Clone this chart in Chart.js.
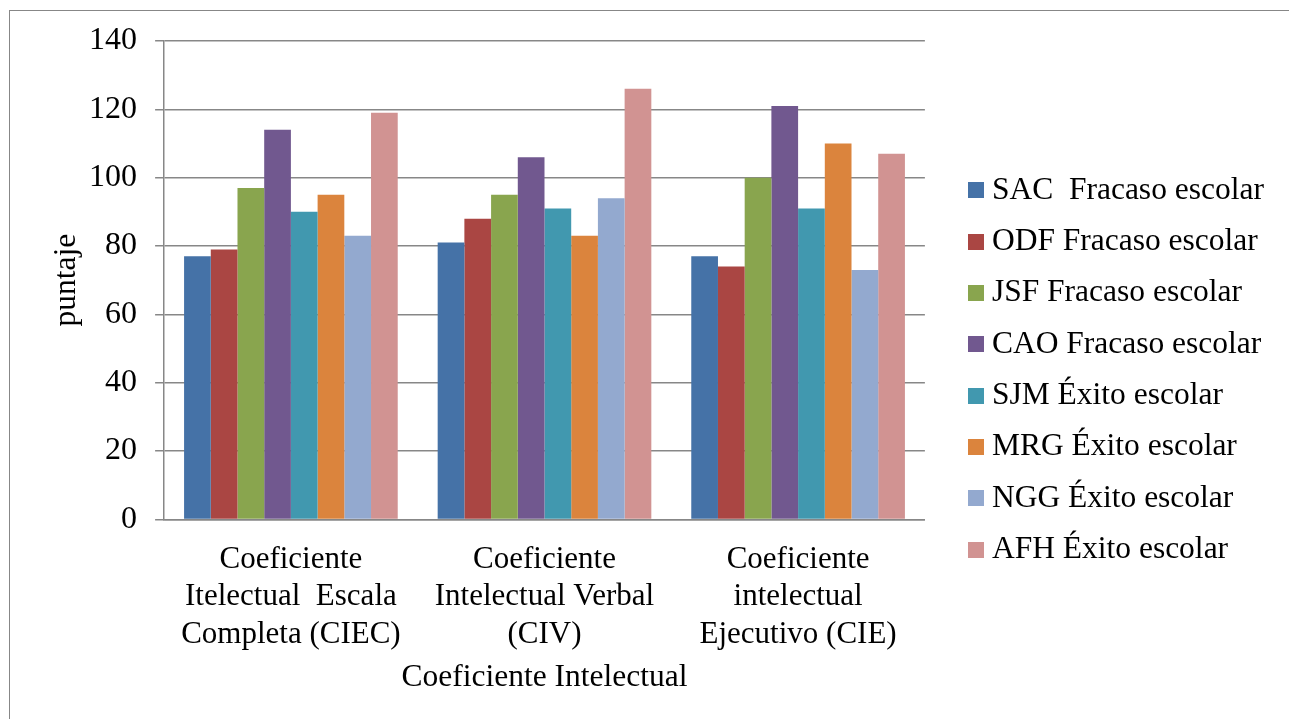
<!DOCTYPE html>
<html>
<head>
<meta charset="utf-8">
<title>Coeficiente Intelectual</title>
<script src="https://cdn.jsdelivr.net/npm/chart.js@4/dist/chart.umd.min.js"></script>
<style>
  html, body { margin: 0; padding: 0; background: #ffffff; }
  #wrap { position: relative; width: 1289px; height: 719px; }
  #frame {
    position: absolute; left: 9px; top: 10px; right: -2px; bottom: -2px;
    border-left: 1px solid #878787; border-top: 1px solid #878787;
    pointer-events: none;
  }
  canvas { display: block; }
</style>
</head>
<body>
<div id="wrap">
  <canvas id="chart" width="1289" height="719"></canvas>
  <div id="frame"></div>
</div>
<script>
// Categories (multi-line axis labels)
const categories = [
  ['Coeficiente', 'Itelectual  Escala', 'Completa (CIEC)'],
  ['Coeficiente', 'Intelectual Verbal', '(CIV)'],
  ['Coeficiente', 'intelectual', 'Ejecutivo (CIE)']
];

// One series per student: CIEC, CIV, CIE
const seriesNames = [
  'SAC  Fracaso escolar',
  'ODF Fracaso escolar',
  'JSF Fracaso escolar',
  'CAO Fracaso escolar',
  'SJM Éxito escolar',
  'MRG Éxito escolar',
  'NGG Éxito escolar',
  'AFH Éxito escolar'
];
const sac = [77, 81, 77];
const odf = [79, 88, 74];
const jsf = [97, 95, 100];
const cao = [114, 106, 121];
const sjm = [90, 91, 91];
const mrg = [95, 83, 110];
const ngg = [83, 94, 73];
const afh = [119, 126, 107];

const seriesColors = ['#4572A7', '#AA4643', '#89A54E', '#71588F', '#4198AF', '#DB843D', '#93A9CF', '#D19392'];

const yTicks = [0, 20, 40, 60, 80, 100, 120, 140];

const seriesValues = [sac, odf, jsf, cao, sjm, mrg, ngg, afh];

// Square legend swatches
function swatch(color) {
  const c = document.createElement('canvas');
  c.width = 16; c.height = 16;
  const g = c.getContext('2d');
  g.fillStyle = color;
  g.fillRect(0, 0, 16, 16);
  return c;
}

const FAMILY = '"Liberation Serif", "Times New Roman", serif';
const LABEL_FONT = { family: FAMILY, size: 31 };
const TICK_FONT = { family: FAMILY, size: 32 };
const TITLE_FONT = { family: FAMILY, size: 31.5 };
const LEGEND_FONT = { family: FAMILY, size: 31.5 };
const GRID = '#878787';

// Pushes the legend block a little further from the plot area
const legendGap = {
  id: 'legendGap',
  afterLayout(chart) {
    const l = chart.legend;
    if (l) { l.left += 30.45; l.right += 45; }
  }
};

// Chart.js reserves the tick padding twice when sizing an axis; keep it once
function dropExtraPadding(scale) {
  const p = scale.options.ticks.padding;
  if (scale.isHorizontal()) scale.height -= p; else scale.width -= p;
}

function draw() {
  const swatches = seriesColors.map(swatch);
  new Chart(document.getElementById('chart'), {
    type: 'bar',
    data: {
      labels: categories,
      datasets: seriesNames.map((name, i) => ({
        label: name,
        data: seriesValues[i],
        backgroundColor: seriesColors[i],
        borderWidth: 0,
        categoryPercentage: 0.8425,
        barPercentage: 1.0
      }))
    },
    options: {
      responsive: false,
      animation: false,
      devicePixelRatio: 1,
      layout: { padding: { left: 48.3, right: 45.5, top: 41, bottom: 20 } },
      plugins: {
        tooltip: { enabled: false },
        title: { display: false },
        legend: {
          position: 'right',
          align: 'center',
          maxWidth: 420,
          labels: {
            font: LEGEND_FONT,
            color: '#000000',
            padding: 19.8,
            usePointStyle: true,
            pointStyleWidth: 1,
            boxWidth: 1,
            boxHeight: 16,
            generateLabels(chart) {
              const items = Chart.defaults.plugins.legend.labels.generateLabels(chart);
              items.forEach((it, i) => { it.pointStyle = swatches[i]; it.rotation = 0; });
              return items;
            }
          }
        }
      },
      scales: {
        x: {
          afterFit: dropExtraPadding,
          grid: { display: false, drawTicks: false },
          border: { display: true, color: GRID, width: 1.5 },
          ticks: {
            font: LABEL_FONT, color: '#000000', padding: 22,
            maxRotation: 0, minRotation: 0, autoSkip: false
          },
          title: {
            display: true, text: 'Coeficiente Intelectual',
            font: TITLE_FONT, color: '#000000',
            padding: { top: 5.8, bottom: 2.4 }
          }
        },
        y: {
          min: 0, max: 140,
          afterFit: dropExtraPadding,
          afterBuildTicks(scale) { scale.ticks = yTicks.map(v => ({ value: v })); },
          grid: { color: GRID, lineWidth: 1.5, drawTicks: true, tickLength: 9 },
          border: { display: true, color: GRID, width: 1.5 },
          ticks: { font: TICK_FONT, color: '#000000', padding: 18 },
          title: {
            display: true, text: 'puntaje',
            font: TITLE_FONT, color: '#000000',
            padding: { top: 0, bottom: 3 }
          }
        }
      }
    },
    plugins: [legendGap]
  });
}

const fontSpec = '32px "Liberation Serif"';
if (document.fonts && document.fonts.load) {
  document.fonts.load(fontSpec, 'SAC Éxito 0123456789').then(draw, draw);
} else {
  draw();
}
</script>
</body>
</html>
